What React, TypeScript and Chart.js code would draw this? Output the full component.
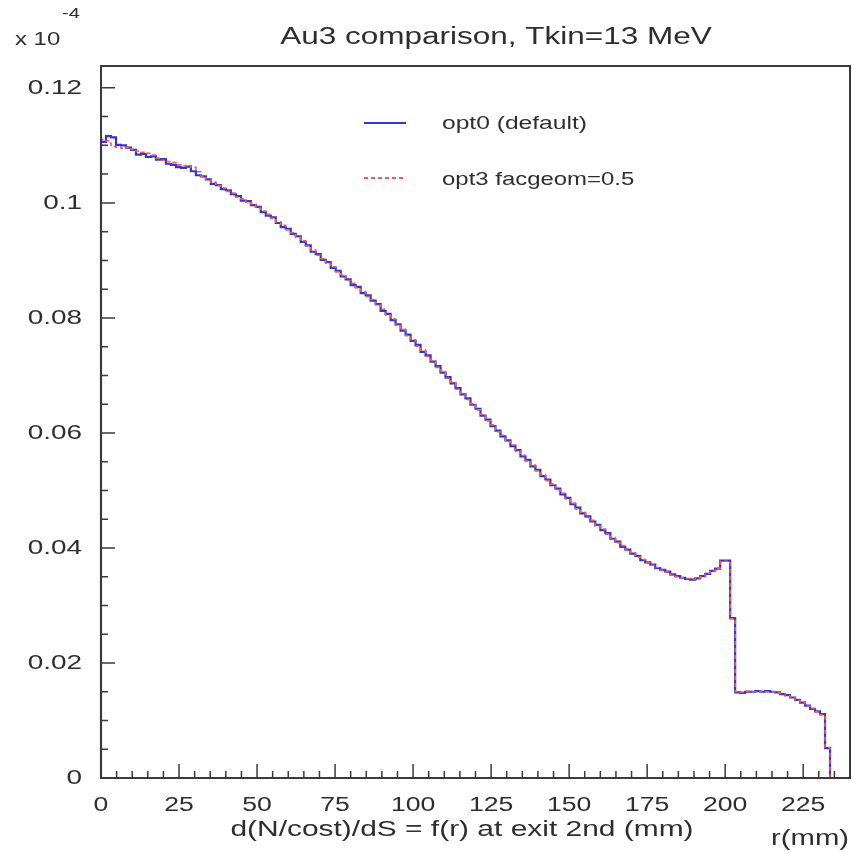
import React, { useEffect, useRef } from "react";
import { Chart, registerables } from "chart.js";

Chart.register(...registerables);

// ---- data ----
const BIN_WIDTH = 1.6; // mm
const X_MIN = 0;
const X_MAX = 240;
const Y_MIN = 0;
const Y_MAX = 0.1238;

const X_TICKS = [0, 25, 50, 75, 100, 125, 150, 175, 200, 225];
const X_TICK_LABELS = ["0", "25", "50", "75", "100", "125", "150", "175", "200", "225"];
const X_MINOR_STEP = 5;
const Y_TICKS = [0, 0.02, 0.04, 0.06, 0.08, 0.1, 0.12];
const Y_TICK_LABELS = ["0", "0.02", "0.04", "0.06", "0.08", "0.1", "0.12"];
const Y_MINOR_STEP = 0.005;

const TITLE = "Au3 comparison, Tkin=13 MeV";
const X_TITLE = "d(N/cost)/dS = f(r) at exit 2nd (mm)";
const X_UNIT = "r(mm)";
const Y_FACTOR_BASE = "x 10";
const Y_FACTOR_EXP = "-4";
const SERIES_NAMES = ["opt0 (default)", "opt3 facgeom=0.5"];

// opt0 (default): bin contents, 1.6 mm bins starting at r = 0
const OPT0 = [
  0.1104, 0.1106, 0.1116, 0.1114, 0.1101, 0.1100, 0.1096, 0.1092, 0.1084, 0.1085,
  0.1080, 0.1081, 0.1075, 0.1076, 0.1068, 0.1066, 0.1062, 0.1061, 0.1063, 0.1055,
  0.1048, 0.1046, 0.1041, 0.1033, 0.1031, 0.1024, 0.1022, 0.1015, 0.1012, 0.1004,
  0.1003, 0.0996, 0.0993, 0.0984, 0.0978, 0.0975, 0.0965, 0.0958, 0.0955, 0.0946,
  0.0942, 0.0932, 0.0926, 0.0915, 0.0911, 0.0901, 0.0897, 0.0887, 0.0882, 0.0872,
  0.0867, 0.0857, 0.0854, 0.0843, 0.0839, 0.0830, 0.0824, 0.0812, 0.0807, 0.0796,
  0.0789, 0.0778, 0.0771, 0.0760, 0.0753, 0.0741, 0.0735, 0.0724, 0.0716, 0.0705,
  0.0697, 0.0686, 0.0678, 0.0667, 0.0660, 0.0649, 0.0642, 0.0630, 0.0623, 0.0612,
  0.0604, 0.0594, 0.0587, 0.0577, 0.0570, 0.0559, 0.0553, 0.0542, 0.0536, 0.0525,
  0.0519, 0.0509, 0.0503, 0.0493, 0.0487, 0.0476, 0.0470, 0.0460, 0.0455, 0.0446,
  0.0440, 0.0431, 0.0426, 0.0416, 0.0411, 0.0402, 0.0397, 0.0390, 0.0386, 0.0379,
  0.0375, 0.0371, 0.0365, 0.0362, 0.0359, 0.0354, 0.0351, 0.0348, 0.0346, 0.0345,
  0.0347, 0.0351, 0.0355, 0.0360, 0.0364, 0.0378, 0.0378, 0.0278, 0.0149, 0.0148,
  0.0150, 0.0150, 0.0151, 0.0150, 0.0151, 0.0150, 0.0149, 0.0146, 0.0144, 0.0140,
  0.0136, 0.0131, 0.0126, 0.0120, 0.0116, 0.0111, 0.0052,
];

// opt3 facgeom=0.5
const OPT3 = [
  0.1103, 0.1110, 0.1108, 0.1098, 0.1097, 0.1095, 0.1097, 0.1093, 0.1090, 0.1088,
  0.1086, 0.1083, 0.1078, 0.1074, 0.1072, 0.1070, 0.1066, 0.1064, 0.1065, 0.1062,
  0.1054, 0.1046, 0.1040, 0.1036, 0.1030, 0.1026, 0.1020, 0.1017, 0.1010, 0.1007,
  0.1001, 0.0998, 0.0991, 0.0986, 0.0980, 0.0973, 0.0967, 0.0961, 0.0953, 0.0948,
  0.0940, 0.0934, 0.0925, 0.0918, 0.0909, 0.0903, 0.0895, 0.0889, 0.0880, 0.0875,
  0.0865, 0.0860, 0.0852, 0.0846, 0.0837, 0.0832, 0.0822, 0.0815, 0.0805, 0.0798,
  0.0787, 0.0780, 0.0769, 0.0762, 0.0751, 0.0744, 0.0733, 0.0726, 0.0714, 0.0707,
  0.0695, 0.0688, 0.0676, 0.0669, 0.0658, 0.0651, 0.0640, 0.0632, 0.0621, 0.0614,
  0.0602, 0.0596, 0.0585, 0.0579, 0.0568, 0.0561, 0.0551, 0.0544, 0.0534, 0.0527,
  0.0517, 0.0511, 0.0501, 0.0495, 0.0485, 0.0478, 0.0468, 0.0462, 0.0453, 0.0448,
  0.0438, 0.0433, 0.0424, 0.0418, 0.0409, 0.0404, 0.0396, 0.0392, 0.0384, 0.0380,
  0.0374, 0.0370, 0.0366, 0.0361, 0.0358, 0.0353, 0.0350, 0.0348, 0.0347, 0.0346,
  0.0348, 0.0350, 0.0356, 0.0359, 0.0365, 0.0377, 0.0377, 0.0277, 0.0150, 0.0149,
  0.0151, 0.0150, 0.0150, 0.0151, 0.0150, 0.0150, 0.0148, 0.0147, 0.0143, 0.0141,
  0.0135, 0.0132, 0.0125, 0.0121, 0.0115, 0.0110, 0.0053,
];

// ---- styling ----
const BLUE = "#3535c8";
const RED = "#f05a5a";
const TEXT = "#2e2e2e";
const AXIS = "#3a3a3a";
const FONT = "'Liberation Sans', Arial, Helvetica, sans-serif";
const STRETCH = 1.33;

function histPoints(values: number[]) {
  const pts: { x: number; y: number }[] = [{ x: X_MIN, y: 0 }];
  values.forEach((v, i) => pts.push({ x: X_MIN + i * BIN_WIDTH, y: v }));
  pts.push({ x: X_MIN + values.length * BIN_WIDTH, y: 0 });
  pts.push({ x: X_MAX, y: 0 });
  return pts;
}

function drawText(
  ctx: CanvasRenderingContext2D,
  text: string,
  x: number,
  y: number,
  size: number,
  align: CanvasTextAlign,
  stretch = STRETCH
) {
  ctx.save();
  ctx.translate(x, y);
  ctx.scale(stretch, 1);
  ctx.font = `${size}px ${FONT}`;
  ctx.fillStyle = TEXT;
  ctx.textAlign = align;
  ctx.textBaseline = "middle";
  ctx.fillText(text, 0, 0);
  ctx.restore();
}

const decorPlugin = {
  id: "rootDecor",
  afterDraw(chart: any) {
    const ctx: CanvasRenderingContext2D = chart.ctx;
    const area = chart.chartArea;
    const xs = chart.scales.x;
    const ys = chart.scales.y;
    ctx.save();

    // frame
    ctx.strokeStyle = AXIS;
    ctx.lineWidth = 2;
    ctx.strokeRect(area.left, area.top, area.right - area.left, area.bottom - area.top);

    // x ticks (inside, upward)
    ctx.lineWidth = 1.5;
    ctx.beginPath();
    for (let v = X_MIN; v <= X_MAX + 1e-9; v += X_MINOR_STEP) {
      const px = xs.getPixelForValue(v);
      const major = X_TICKS.some((t) => Math.abs(t - v) < 1e-6);
      const len = major ? 14 : 7;
      ctx.moveTo(px, area.bottom);
      ctx.lineTo(px, area.bottom - len);
    }
    // y ticks (inside, rightward)
    for (let v = Y_MIN; v <= Y_MAX + 1e-9; v += Y_MINOR_STEP) {
      const py = ys.getPixelForValue(v);
      const major = Y_TICKS.some((t) => Math.abs(t - v) < 1e-6);
      const len = major ? 14 : 7;
      ctx.moveTo(area.left, py);
      ctx.lineTo(area.left + len, py);
    }
    ctx.stroke();

    // tick labels
    X_TICKS.forEach((t, i) => {
      drawText(ctx, X_TICK_LABELS[i], xs.getPixelForValue(t), area.bottom + 27, 20, "center");
    });
    Y_TICKS.forEach((t, i) => {
      drawText(ctx, Y_TICK_LABELS[i], area.left - 19, ys.getPixelForValue(t), 21, "right");
    });

    // titles
    drawText(ctx, TITLE, 496, 38, 23, "center", 1.37);
    drawText(ctx, X_TITLE, 462, 830, 22.5, "center");
    drawText(ctx, X_UNIT, 849, 839, 22, "right");
    drawText(ctx, Y_FACTOR_BASE, 15, 40, 18, "left");
    drawText(ctx, Y_FACTOR_EXP, 62, 14, 15, "left");

    // legend
    ctx.lineWidth = 2;
    ctx.strokeStyle = BLUE;
    ctx.setLineDash([]);
    ctx.beginPath();
    ctx.moveTo(364, 123);
    ctx.lineTo(406, 123);
    ctx.stroke();
    ctx.strokeStyle = RED;
    ctx.setLineDash([4, 3]);
    ctx.beginPath();
    ctx.moveTo(364, 178);
    ctx.lineTo(406, 178);
    ctx.stroke();
    ctx.setLineDash([]);
    drawText(ctx, SERIES_NAMES[0], 442, 124, 18.5, "left");
    drawText(ctx, SERIES_NAMES[1], 442, 180, 18, "left");

    ctx.restore();
  },
};

export default function App() {
  const ref = useRef<HTMLCanvasElement | null>(null);

  useEffect(() => {
    if (!ref.current) return;
    const chart = new Chart(ref.current, {
      type: "line",
      data: {
        datasets: [
          {
            label: SERIES_NAMES[0],
            data: histPoints(OPT0),
            borderColor: BLUE,
            borderWidth: 2.2,
            pointRadius: 0,
            stepped: "after",
            fill: false,
            order: 1,
            clip: false as any,
          },
          {
            label: SERIES_NAMES[1],
            data: histPoints(OPT3),
            borderColor: RED,
            borderWidth: 1.6,
            borderDash: [4, 3],
            pointRadius: 0,
            stepped: "after",
            fill: false,
            order: 0,
            clip: false as any,
          },
        ],
      },
      options: {
        responsive: false,
        animation: false,
        devicePixelRatio: 1,
        layout: { padding: { left: 0, top: 66, right: 2, bottom: 0 } },
        plugins: {
          legend: { display: false },
          tooltip: { enabled: false },
          title: { display: false },
        },
        scales: {
          x: {
            type: "linear",
            min: X_MIN,
            max: X_MAX,
            grid: { display: false },
            border: { display: false },
            ticks: { display: false },
            afterFit: (s: any) => {
              s.height = 74;
            },
          },
          y: {
            type: "linear",
            min: Y_MIN,
            max: Y_MAX,
            grid: { display: false },
            border: { display: false },
            ticks: { display: false },
            afterFit: (s: any) => {
              s.width = 101;
            },
          },
        },
      },
      plugins: [decorPlugin],
    });
    return () => chart.destroy();
  }, []);

  return (
    <div style={{ position: "absolute", left: 0, top: 0, width: 852, height: 852, background: "#fff" }}>
      <canvas ref={ref} width={852} height={852} style={{ display: "block" }} />
    </div>
  );
}
